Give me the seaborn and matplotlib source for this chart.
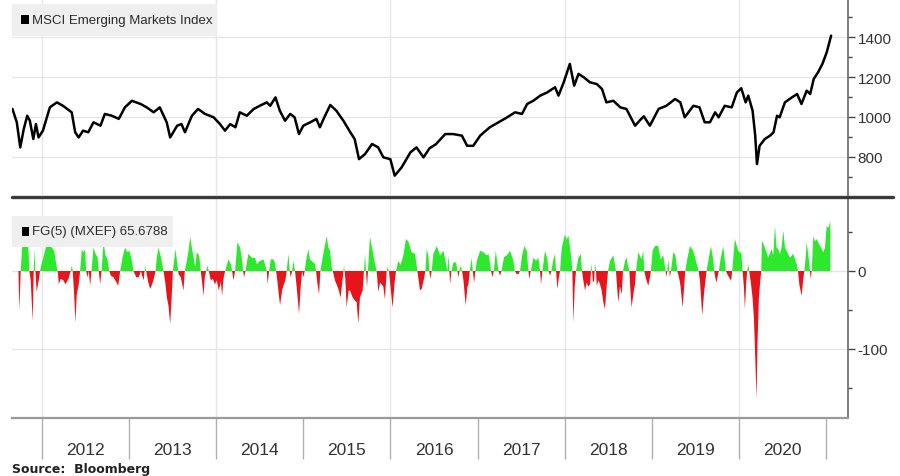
import numpy as np
import pandas as pd
import matplotlib
matplotlib.use("Agg")
import matplotlib.pyplot as plt
import matplotlib.dates as mdates
from matplotlib.ticker import MultipleLocator
from matplotlib.lines import Line2D
from matplotlib.patches import Rectangle
import seaborn as sns

# MSCI Emerging Markets Index (decimal year, index level)
msci_years = [2011.66, 2011.71, 2011.75, 2011.79, 2011.83, 2011.86, 2011.90, 2011.93, 2011.96, 2012.01,
              2012.09, 2012.17, 2012.24, 2012.34, 2012.38, 2012.42, 2012.47, 2012.53, 2012.59, 2012.67,
              2012.72, 2012.80, 2012.88, 2012.95, 2013.03, 2013.13, 2013.20, 2013.28, 2013.35, 2013.43,
              2013.47, 2013.55, 2013.60, 2013.64, 2013.72, 2013.79, 2013.87, 2013.97, 2014.04, 2014.10,
              2014.16, 2014.22, 2014.27, 2014.35, 2014.43, 2014.50, 2014.58, 2014.62, 2014.68, 2014.73,
              2014.79, 2014.85, 2014.90, 2014.95, 2015.00, 2015.08, 2015.15, 2015.19, 2015.25, 2015.31,
              2015.38, 2015.46, 2015.54, 2015.59, 2015.64, 2015.71, 2015.79, 2015.86, 2015.92, 2016.00,
              2016.05, 2016.13, 2016.23, 2016.30, 2016.38, 2016.45, 2016.52, 2016.63, 2016.72, 2016.82,
              2016.88, 2016.95, 2017.03, 2017.14, 2017.24, 2017.34, 2017.43, 2017.51, 2017.57, 2017.64,
              2017.72, 2017.80, 2017.89, 2017.93, 2017.99, 2018.06, 2018.11, 2018.16, 2018.22, 2018.29,
              2018.37, 2018.43, 2018.48, 2018.56, 2018.64, 2018.71, 2018.77, 2018.81, 2018.87, 2018.91,
              2018.98, 2019.08, 2019.17, 2019.27, 2019.33, 2019.38, 2019.48, 2019.55, 2019.61, 2019.67,
              2019.73, 2019.77, 2019.84, 2019.92, 2019.98, 2020.03, 2020.08, 2020.11, 2020.16, 2020.19,
              2020.21, 2020.24, 2020.30, 2020.36, 2020.40, 2020.44, 2020.47, 2020.53, 2020.61, 2020.67,
              2020.72, 2020.78, 2020.82, 2020.86, 2020.91, 2020.96, 2021.01, 2021.06]
msci_level = [1040, 973, 847, 939, 1006, 981, 889, 964, 897, 931,
              1048, 1073, 1056, 1023, 923, 897, 931, 923, 973, 956,
              1015, 1006, 990, 1048, 1081, 1065, 1048, 1023, 1048, 973,
              897, 956, 964, 923, 1006, 1040, 1015, 998, 965, 931,
              964, 948, 1023, 1006, 1040, 1056, 1073, 1056, 1098, 1031,
              981, 1015, 998, 914, 956, 973, 990, 948, 1006, 1060,
              1031, 981, 923, 889, 788, 814, 864, 847, 797, 788,
              705, 747, 822, 847, 797, 843, 862, 914, 914, 906,
              855, 855, 906, 948, 973, 998, 1023, 1015, 1065, 1081,
              1107, 1123, 1149, 1107, 1174, 1266, 1157, 1216, 1199, 1174,
              1165, 1140, 1073, 1081, 1048, 1040, 990, 956, 985, 1003,
              956, 1040, 1056, 1090, 1073, 998, 1056, 1048, 973, 973,
              1023, 998, 1056, 1048, 1123, 1144, 1073, 1107, 1031, 906,
              763, 855, 889, 906, 923, 1006, 998, 1073, 1098, 1115,
              1065, 1132, 1115, 1190, 1224, 1266, 1325, 1408]

# FG(5) (MXEF) (decimal year, value)
fg_years = [2011.729, 2011.740, 2011.755, 2011.771, 2011.805, 2011.824, 2011.843, 2011.855, 2011.870, 2011.893,
            2011.905, 2011.912, 2011.924, 2011.939, 2011.962, 2011.977, 2011.997, 2012.016, 2012.054, 2012.073,
            2012.111, 2012.138, 2012.169, 2012.180, 2012.192, 2012.215, 2012.245, 2012.268, 2012.303, 2012.330,
            2012.341, 2012.352, 2012.368, 2012.383, 2012.398, 2012.418, 2012.437, 2012.456, 2012.475, 2012.494,
            2012.506, 2012.521, 2012.536, 2012.551, 2012.567, 2012.590, 2012.613, 2012.636, 2012.651, 2012.666,
            2012.682, 2012.705, 2012.728, 2012.750, 2012.770, 2012.789, 2012.819, 2012.850, 2012.873, 2012.896,
            2012.927, 2012.953, 2012.980, 2013.003, 2013.030, 2013.049, 2013.080, 2013.110, 2013.133, 2013.164,
            2013.183, 2013.194, 2013.217, 2013.240, 2013.263, 2013.286, 2013.302, 2013.317, 2013.336, 2013.363,
            2013.382, 2013.393, 2013.413, 2013.432, 2013.451, 2013.470, 2013.489, 2013.501, 2013.516, 2013.531,
            2013.554, 2013.566, 2013.592, 2013.623, 2013.638, 2013.654, 2013.680, 2013.700, 2013.719, 2013.738,
            2013.757, 2013.776, 2013.803, 2013.822, 2013.837, 2013.853, 2013.868, 2013.883, 2013.899, 2013.914,
            2013.937, 2013.960, 2013.983, 2014.006, 2014.029, 2014.052, 2014.067, 2014.082, 2014.101,
            2014.140, 2014.170, 2014.182, 2014.197, 2014.216, 2014.243, 2014.274, 2014.297, 2014.308, 2014.320,
            2014.335, 2014.369, 2014.408, 2014.446, 2014.465, 2014.503, 2014.542, 2014.568, 2014.580, 2014.591,
            2014.607, 2014.626, 2014.656, 2014.675, 2014.687, 2014.702, 2014.718, 2014.733, 2014.756, 2014.771,
            2014.794, 2014.809, 2014.829, 2014.844, 2014.855, 2014.871, 2014.886, 2014.905, 2014.924, 2014.951,
            2014.970, 2014.985, 2015.001, 2015.016, 2015.031, 2015.058, 2015.077, 2015.096, 2015.135, 2015.146,
            2015.161, 2015.181, 2015.196, 2015.211, 2015.230, 2015.269, 2015.288, 2015.307, 2015.326, 2015.338,
            2015.364, 2015.403, 2015.429, 2015.452, 2015.468, 2015.483, 2015.498, 2015.521, 2015.537, 2015.567,
            2015.594, 2015.613, 2015.632, 2015.651, 2015.682, 2015.697, 2015.709, 2015.720, 2015.732, 2015.743,
            2015.766, 2015.797, 2015.824, 2015.843, 2015.862, 2015.881, 2015.900, 2015.919, 2015.938, 2015.958,
            2015.969, 2015.984, 2016.003, 2016.026, 2016.049, 2016.065, 2016.091, 2016.118, 2016.149, 2016.179,
            2016.206, 2016.245, 2016.283, 2016.310, 2016.340, 2016.359, 2016.386, 2016.401, 2016.417, 2016.436,
            2016.447, 2016.459, 2016.474, 2016.493,
            2016.532, 2016.570, 2016.608, 2016.639, 2016.654, 2016.665, 2016.677, 2016.685, 2016.700, 2016.723,
            2016.754, 2016.769, 2016.780, 2016.792, 2016.807, 2016.822, 2016.838, 2016.864, 2016.884, 2016.895,
            2016.910, 2016.933, 2016.945, 2016.960, 2016.975, 2016.991, 2017.029, 2017.067, 2017.106, 2017.125,
            2017.144, 2017.155, 2017.171, 2017.186, 2017.209, 2017.228, 2017.240, 2017.259, 2017.274, 2017.305,
            2017.335, 2017.373, 2017.412, 2017.427, 2017.450, 2017.469, 2017.488, 2017.511, 2017.538, 2017.565,
            2017.584, 2017.595, 2017.611, 2017.641, 2017.672, 2017.699, 2017.718, 2017.729, 2017.745, 2017.775,
            2017.802, 2017.817, 2017.833, 2017.848, 2017.871, 2017.890, 2017.902, 2017.917, 2017.932, 2017.948,
            2017.967, 2018.005, 2018.024, 2018.043, 2018.062, 2018.081, 2018.089, 2018.101, 2018.116, 2018.131,
            2018.158, 2018.185, 2018.200, 2018.215, 2018.235, 2018.254, 2018.273, 2018.292, 2018.311, 2018.323,
            2018.338, 2018.349, 2018.361, 2018.369, 2018.388, 2018.407, 2018.426, 2018.445, 2018.464, 2018.483,
            2018.499, 2018.522, 2018.560, 2018.579, 2018.590, 2018.606, 2018.617, 2018.636, 2018.656, 2018.671,
            2018.694, 2018.713, 2018.732, 2018.744, 2018.759, 2018.770, 2018.789, 2018.809, 2018.820, 2018.847,
            2018.885, 2018.904,
            2018.916, 2018.935, 2018.962, 2018.981, 2018.992, 2019.011, 2019.038, 2019.076, 2019.103, 2019.134,
            2019.153, 2019.161, 2019.168, 2019.180, 2019.191, 2019.203, 2019.210, 2019.222, 2019.249, 2019.275,
            2019.295, 2019.318, 2019.333, 2019.356, 2019.371, 2019.386, 2019.409, 2019.440, 2019.478, 2019.509,
            2019.524, 2019.540, 2019.555, 2019.582, 2019.601, 2019.616, 2019.631, 2019.651, 2019.681, 2019.708,
            2019.719, 2019.731, 2019.746, 2019.762, 2019.773, 2019.792, 2019.823, 2019.842, 2019.853, 2019.869,
            2019.899, 2019.915, 2019.926, 2019.945, 2019.957, 2019.995, 2020.033, 2020.045, 2020.060, 2020.072,
            2020.087, 2020.098, 2020.110, 2020.121, 2020.140, 2020.160, 2020.175, 2020.190, 2020.205, 2020.217,
            2020.232, 2020.248, 2020.259, 2020.267, 2020.301, 2020.339, 2020.378, 2020.397, 2020.416, 2020.435,
            2020.454, 2020.473, 2020.492, 2020.512, 2020.531, 2020.550, 2020.588, 2020.626, 2020.665, 2020.680,
            2020.695, 2020.722, 2020.741, 2020.753, 2020.768, 2020.780, 2020.799, 2020.818, 2020.825, 2020.837,
            2020.856, 2020.875, 2020.894, 2020.933, 2020.971, 2020.990, 2021.009, 2021.028, 2021.047, 2021.051]
fg_value = [0, -51, 0, 30, 67, 35, 30, 0, -12, -64,
            0, 28, 0, -27, -12, 0, 10, 18, 35, 41,
            30, 26, 5, 0, -17, -10, -12, -17, -10, 0,
            7, 0, -30, -66, -30, -19, 0, 28, 24, 28,
            0, -8, 0, -19, 0, 30, 22, 18, 0, -17,
            0, 37, 20, 15, 0, -6, -8, -14, -19, 0,
            20, 30, 24, 26, 13, 0, -8, -8, 0, -12,
            7, 0, -14, -23, -17, -8, 0, 18, 30, 18,
            7, 0, -14, -34, -45, -68, -30, 0, 15, 28,
            8, -4, -8, -25, 0, 9, 25, 44, 30, 18,
            5, 24, 20, 0, -15, -32, -8, 0, 7, 0,
            -12, -10, -17, -12, -25, -14, -32, -10, 0,
            15, 8, 0, -12, 0, 37, 30, 13, 0, -8,
            0, 22, 17, 17, 9, 13, 15, 5, 0, -17,
            0, 15, 15, 10, 0, -13, -30, -44, -25, -19,
            -12, 0, 22, 0, -8, 0, 13, 0, -21, -55,
            -20, 0, -8, 0, 13, 28, 15, 13, 9, 0,
            -15, -30, 0, 10, 22, 45, 30, 26, 5, 0,
            -12, -23, -34, -10, 7, -10, -47, -25, -25, -34,
            -38, -40, -68, -34, -25, 0, 22, 0, -21, 0,
            44, 26, 9, 0, -27, -15, -17, -20, -36, 0,
            5, 0, -21, -47, -15, 0, 13, 8, 20, 41,
            38, 24, 22, 0, -25, -23, -10, 0, 28, 20,
            0, -10, 0, 22,
            32, 20, 26, 9, 0, 20, 0, -17, 0, 11,
            11, 0, -8, 0, 7, 0, -12, -44, -20, -17,
            0, 17, 0, -15, 0, 13, 26, 24, 20, 22,
            9, 0, -8, 0, 26, 10, 0, -6, 0, 18,
            20, 26, 13, 0, -4, -4, 0, 20, 32, 26,
            0, -10, 0, 17, 13, 17, 0, -17, 0, 26,
            15, 0, -6, 0, 15, 22, 0, -23, -10, 0,
            30, 47, 40, 46, 30, 13, 0, -66, -20, 0,
            17, 22, 0, -12, -25, -15, -20, -17, 10, -12,
            -15, 10, 0, -19, -12, -17, -25, -40, -49, -20,
            0, 13, 20, 8, 0, -25, -40, -20, -30, 0,
            13, 17, 5, 0, -30, -47, -30, -17, 0, 24,
            15, 26,
            0, -10, -19, -8, 0, 26, 32, 32, 15, 20,
            5, 0, -8, 0, 15, 0, -8, 0, 24, 20,
            0, -10, -20, -47, -25, 0, 15, 32, 26, 13,
            7, 0, -12, -57, -30, -15, 0, 13, 32, 15,
            0, -8, -15, -5, 0, 15, 32, 13, 0, -4,
            -10, -12, 0, 26, 41, 26, 22, 0, -20, -49,
            -15, 0, 9, 0, -15, -35, -60, -110, -164, -90,
            -35, -12, 0, 39, 30, 17, 28, 20, 58, 30,
            28, 22, 30, 52, 30, 26, 17, 22, 9, 0,
            -17, -32, -10, 0, 17, 37, 20, 0, -10, 0,
            45, 38, 41, 32, 24, 30, 58, 55, 62, 65.68]

legend_top = "MSCI Emerging Markets Index"
legend_bottom = "FG(5) (MXEF) 65.6788"


def to_date(t):
    y = int(np.floor(t))
    start = pd.Timestamp(year=y, month=1, day=1)
    end = pd.Timestamp(year=y + 1, month=1, day=1)
    return start + (end - start) * (t - y)


sns.set_theme(style="white")
plt.rcParams['font.family'] = ['Liberation Sans', 'DejaVu Sans']
plt.rcParams['axes.unicode_minus'] = False

W, H = 900, 477
fig = plt.figure(figsize=(9, 4.77), dpi=100)
fig.patch.set_facecolor('white')

# panel boxes in pixels
left, right = 12, 848
ax1 = fig.add_axes([left / W, 1 - 196 / H, (right - left) / W, 196 / H])
ax2 = fig.add_axes([left / W, 1 - 419 / H, (right - left) / W, 220 / H])

df_line = pd.DataFrame({'date': [to_date(t) for t in msci_years], 'level': msci_level})
df_fg = pd.DataFrame({'date': [to_date(t) for t in fg_years], 'value': fg_value})

sns.lineplot(data=df_line, x='date', y='level', ax=ax1, color='black', lw=1.8, sort=False)

xd = mdates.date2num(df_fg['date'])
v = df_fg['value'].to_numpy(dtype=float)
green, red = '#2ee82e', '#e8141b'
ax2.fill_between(xd, v, 0, where=v >= 0, interpolate=True, color=green, lw=0)
ax2.fill_between(xd, v, 0, where=v <= 0, interpolate=True, color=red, lw=0)
ax2.xaxis_date()

xmin = mdates.date2num(to_date(2011.655))
xmax = mdates.date2num(to_date(2021.254))
for ax in (ax1, ax2):
    ax.set_xlim(xmin, xmax)
    ax.set_facecolor('white')
    for s in ('top', 'left', 'bottom', 'right'):
        ax.spines[s].set_visible(False)
    ax.spines['right'].set_visible(True)
    ax.spines['right'].set_color('#666666')
    ax.spines['right'].set_linewidth(1.2)
    ax.yaxis.tick_right()
    ax.set_xlabel('')
    ax.set_ylabel('')
    ax.tick_params(axis='y', which='major', direction='out', length=5, width=1,
                   color='#444444', labelsize=11, labelcolor='#333333', pad=2,
                   left=False, right=True)
    ax.tick_params(axis='y', which='minor', direction='out', length=3, width=1,
                   color='#444444', left=False, right=True)
    for yr in range(2012, 2021, 2):
        ax.axvline(mdates.date2num(pd.Timestamp(year=yr, month=1, day=1)),
                   color='#e6e6e6', lw=1, zorder=0)

# top panel
ax1.set_ylim(608, 1592)
ax1.set_yticks([800, 1000, 1200, 1400])
ax1.yaxis.set_minor_locator(MultipleLocator(100))
ax1.grid(axis='y', color='#e6e6e6', lw=1)
ax1.set_axisbelow(True)
ax1.tick_params(axis='x', which='both', length=0, labelbottom=False)

# bottom panel
ax2.set_ylim(-188.5, 93.6)
ax2.set_yticks([0, -100])
ax2.yaxis.set_minor_locator(MultipleLocator(50))
ax2.grid(axis='y', color='#e6e6e6', lw=1)
ax2.set_axisbelow(True)
ax2.spines['bottom'].set_visible(True)
ax2.spines['bottom'].set_color('#9a9a9a')
ax2.spines['bottom'].set_linewidth(1.6)

ax2.xaxis.set_major_locator(mdates.YearLocator(1))
ax2.xaxis.set_major_formatter(plt.NullFormatter())
ax2.xaxis.set_minor_locator(mdates.MonthLocator(bymonth=7, bymonthday=2))
ax2.xaxis.set_minor_formatter(mdates.DateFormatter('%Y'))
ax2.tick_params(axis='x', which='major', direction='out', length=29.5, width=1,
                color='#b0b0b0', bottom=True)
ax2.tick_params(axis='x', which='minor', length=0, pad=17, labelsize=12.5,
                labelcolor='#333333', bottom=True)

# separator between panels
fig.add_artist(Line2D([left / W, 893 / W], [1 - 197.5 / H] * 2, color='#3a3a3a',
                      lw=2.4, transform=fig.transFigure))


# legend boxes
def legend_box(x0, y0, x1, y1, sq, text_x, text_y, label):
    fig.add_artist(Rectangle((x0 / W, 1 - y1 / H), (x1 - x0) / W, (y1 - y0) / H,
                             transform=fig.transFigure, facecolor='#efefef',
                             edgecolor='none', zorder=5))
    sx0, sy0, sx1, sy1 = sq
    fig.add_artist(Rectangle((sx0 / W, 1 - sy1 / H), (sx1 - sx0) / W, (sy1 - sy0) / H,
                             transform=fig.transFigure, facecolor='black',
                             edgecolor='none', zorder=6))
    fig.text(text_x / W, 1 - text_y / H, label, ha='left', va='center',
             fontsize=9.5, color='#2b2b2b', zorder=7)


legend_box(12, 5, 217, 37, (21, 16, 29, 25), 31.5, 21, legend_top)
legend_box(12, 217, 173, 248, (22, 228, 29, 237), 32, 232.5, legend_bottom)

fig.text(12 / W, 1 - 470 / H, "Source:  Bloomberg", ha='left', va='center',
         fontsize=9, fontweight='bold', family='DejaVu Sans', color='#222222')

fig.savefig('out.png', dpi=100, facecolor='white')
